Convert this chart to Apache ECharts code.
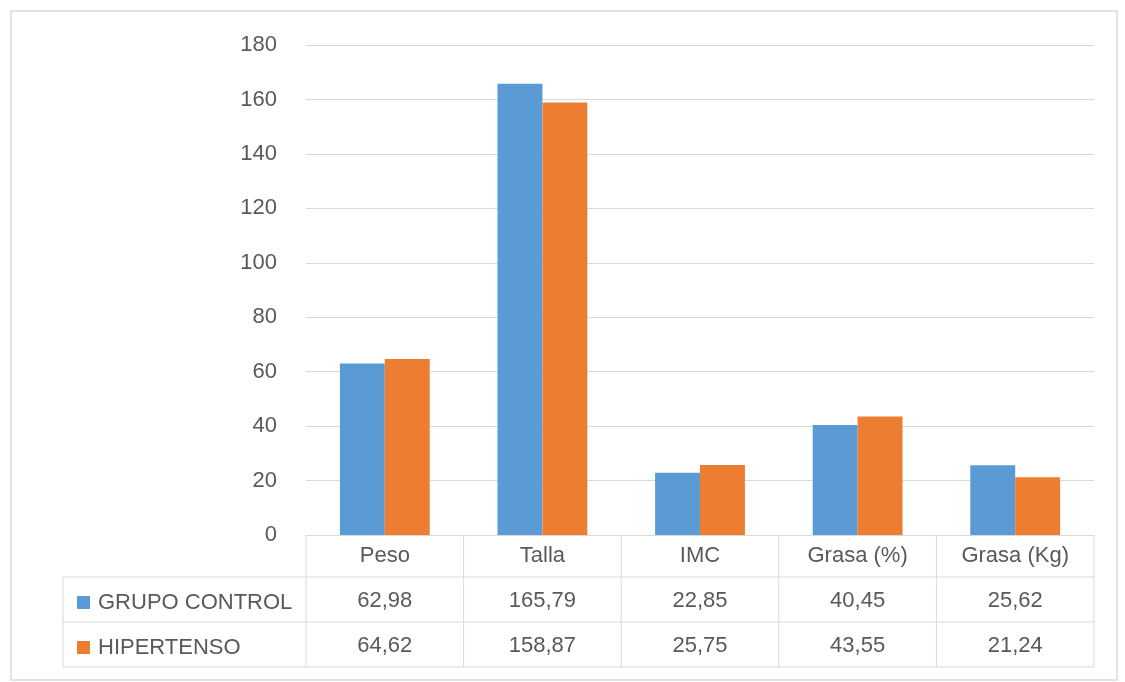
<!DOCTYPE html>
<html>
<head>
<meta charset="utf-8">
<script src="https://cdn.jsdelivr.net/npm/echarts@6/dist/echarts.min.js"></script>
<style>
  html, body { margin: 0; padding: 0; background: #fff; }
  #chart { width: 1125px; height: 682px; }
</style>
</head>
<body>
<div id="chart"></div>
<script>
// Anthropometric comparison: control group vs hypertensive group
const categories = ['Peso', 'Talla', 'IMC', 'Grasa (%)', 'Grasa (Kg)'];
const seriesNames = ['GRUPO CONTROL', 'HIPERTENSO'];
const grupoControl = [62.98, 165.79, 22.85, 40.45, 25.62];
const hipertenso = [64.62, 158.87, 25.75, 43.55, 21.24];
const yMin = 0, yMax = 180, yStep = 20;

const BLUE = '#5B9BD5';
const ORANGE = '#ED7D31';
const TEXT = '#595959';
const LINE = '#D9D9D9';
const FONT = 'Liberation Sans';
const FS = 22;

// data table geometry (below the category axis)
const headerH = 42;
const rowH = 45;
const legendColLeft = 63;

const fmt = v => v.toFixed(2).replace('.', ',');

const chart = echarts.init(document.getElementById('chart'));

const valueAxis = (data, offset) => ({
  type: 'category',
  data: categories,
  position: 'bottom',
  offset: offset,
  axisLine: { show: false },
  axisTick: { show: false },
  axisLabel: {
    margin: (rowH - FS) / 2 + 1,
    color: TEXT, fontFamily: FONT, fontSize: FS,
    formatter: (v, i) => fmt(data[i])
  }
});

chart.setOption({
  animation: false,
  backgroundColor: '#fff',
  textStyle: { fontFamily: FONT },
  grid: { left: 306, right: 31, top: 45, bottom: 147 },
  legend: {
    orient: 'vertical',
    left: 72,
    top: 586,
    itemWidth: 13,
    itemHeight: 13,
    itemGap: 22,
    icon: 'rect',
    selectedMode: false,
    textStyle: { color: TEXT, fontFamily: FONT, fontSize: FS, lineHeight: 23, padding: [0, 0, 0, 3] },
    data: seriesNames
  },
  xAxis: [
    {
      type: 'category',
      data: categories,
      axisLine: { show: true, lineStyle: { color: LINE, width: 1 } },
      axisTick: { show: false },
      axisLabel: { margin: (headerH - FS) / 2, color: TEXT, fontFamily: FONT, fontSize: FS }
    },
    valueAxis(grupoControl, headerH),
    valueAxis(hipertenso, headerH + rowH)
  ],
  yAxis: {
    type: 'value',
    min: yMin, max: yMax, interval: yStep,
    axisLine: { show: false },
    axisTick: { show: false },
    axisLabel: { margin: 29, color: TEXT, fontFamily: FONT, fontSize: FS },
    splitLine: { lineStyle: { color: LINE, width: 1 } }
  },
  series: [
    {
      name: seriesNames[0], type: 'bar', data: grupoControl,
      itemStyle: { color: BLUE }, barGap: '0%', barCategoryGap: '43%'
    },
    {
      name: seriesNames[1], type: 'bar', data: hipertenso,
      itemStyle: { color: ORANGE }, barGap: '0%', barCategoryGap: '43%'
    }
  ]
});

// table borders, placed from the axis scales
const centers = categories.map(c => chart.convertToPixel({ xAxisIndex: 0 }, c));
const band = centers[1] - centers[0];
const edges = [];
for (let k = 0; k <= categories.length; k++) edges.push(centers[0] - band / 2 + k * band);
const y0 = chart.convertToPixel({ yAxisIndex: 0 }, yMin);
const y1 = y0 + headerH, y2 = y1 + rowH, y3 = y2 + rowH;
const tableRight = edges[edges.length - 1];

const lines = [];
const seg = (x1, ya, x2, yb) => lines.push({
  type: 'line', silent: true,
  shape: { x1: x1, y1: ya, x2: x2, y2: yb },
  style: { stroke: LINE, lineWidth: 1 }
});
[y1, y2, y3].forEach(y => seg(legendColLeft, y, tableRight, y));
edges.forEach(x => seg(x, y0, x, y3));
seg(legendColLeft, y1, legendColLeft, y3);

chart.setOption({
  graphic: [
    {
      type: 'rect', silent: true,
      shape: { x: 11, y: 11, width: 1106, height: 669 },
      style: { fill: 'none', stroke: LINE, lineWidth: 1.5 }
    }
  ].concat(lines)
});
</script>
</body>
</html>
